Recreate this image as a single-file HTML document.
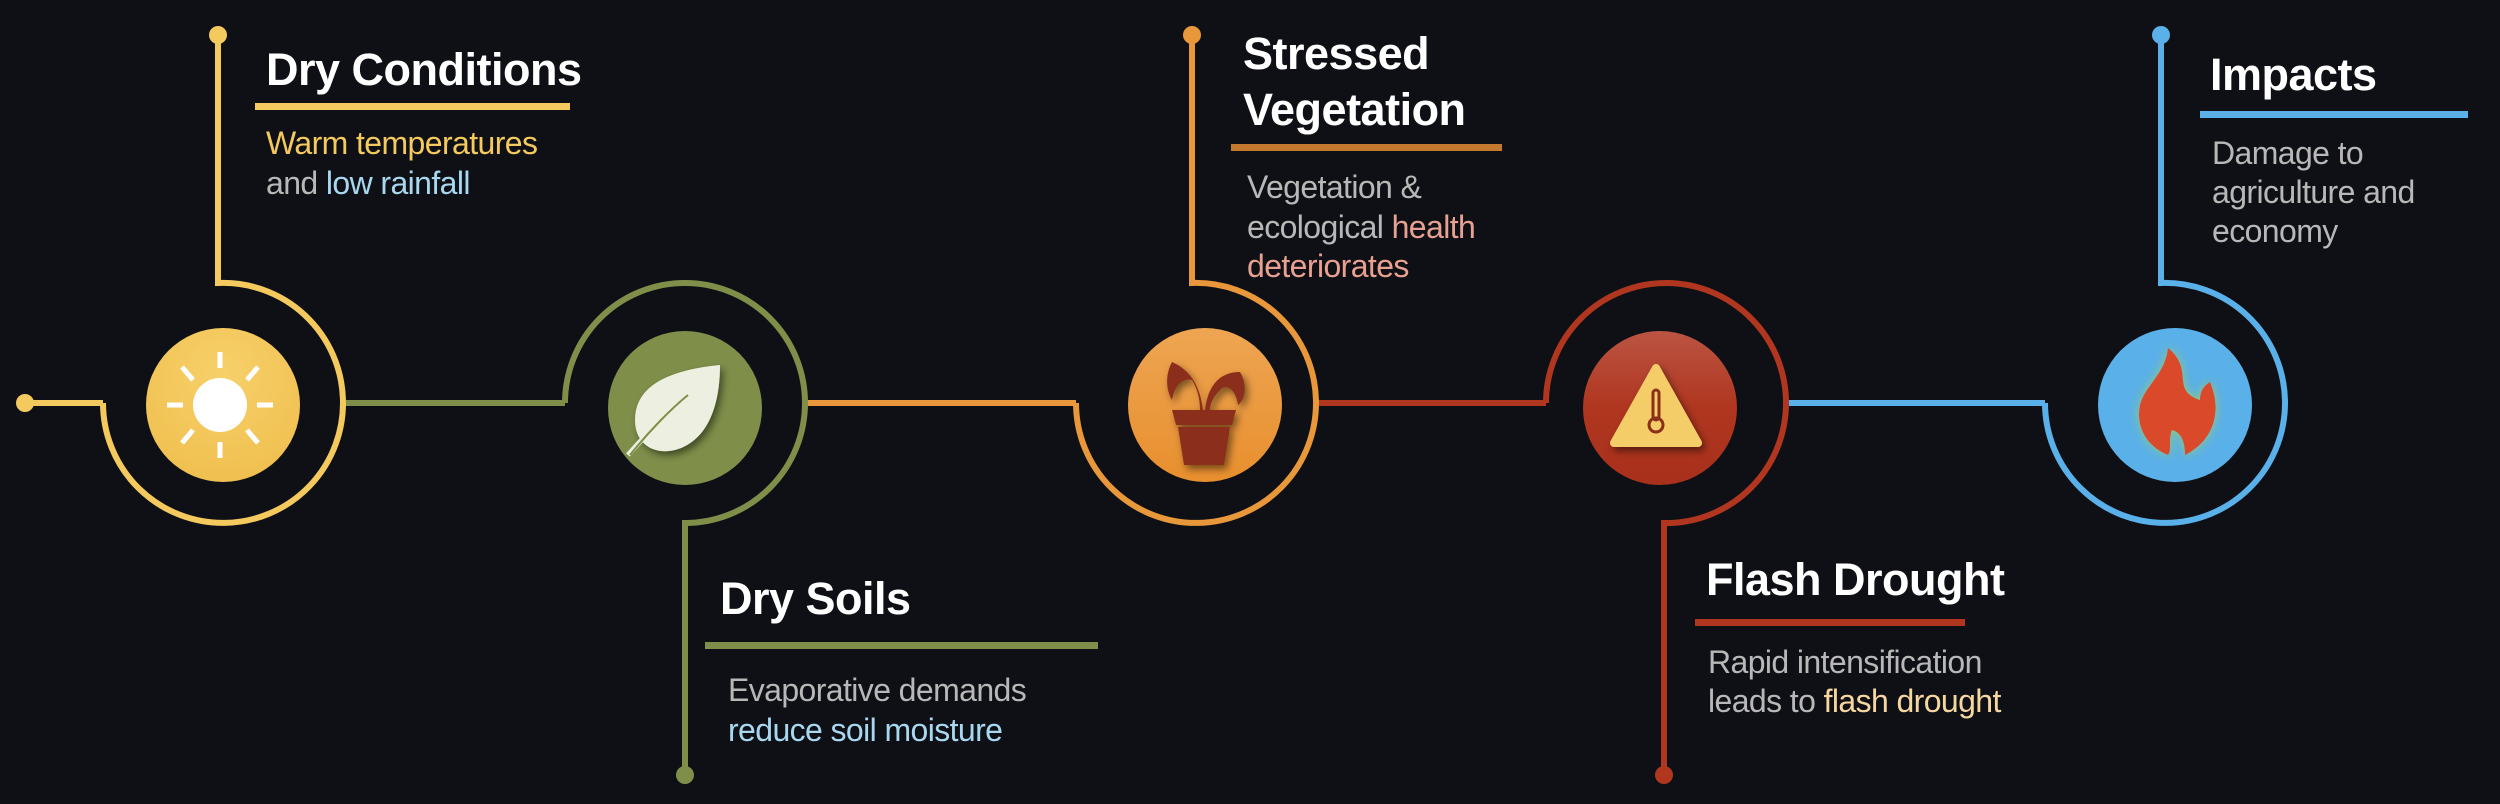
<!DOCTYPE html>
<html><head><meta charset="utf-8"><style>
html,body{margin:0;padding:0;background:#0f1015;}
svg{display:block;}
text{font-family:"Liberation Sans",Arial,sans-serif;}
.t{font-weight:bold;fill:#fff;font-size:45px;letter-spacing:-0.5px;}
.b{fill:#b8b8b8;font-size:32px;letter-spacing:-0.6px;}
</style></head><body>
<svg width="2500" height="804" viewBox="0 0 2500 804">
<rect width="2500" height="804" fill="#0f1015"/>
<defs>
<filter id="sh" x="-30%" y="-30%" width="160%" height="160%"><feDropShadow dx="3" dy="4" stdDeviation="4" flood-color="#000" flood-opacity="0.5"/></filter>
<radialGradient id="gy" cx="50%" cy="30%" r="70%"><stop offset="0" stop-color="#f7d06a"/><stop offset="1" stop-color="#f0c050"/></radialGradient>
<linearGradient id="go" x1="0" y1="0" x2="0" y2="1"><stop offset="0" stop-color="#eea552"/><stop offset="1" stop-color="#e88f2e"/></linearGradient>
<linearGradient id="gr" x1="0" y1="0" x2="0" y2="1"><stop offset="0" stop-color="#bb5443"/><stop offset="0.5" stop-color="#b0361f"/><stop offset="1" stop-color="#a8301c"/></linearGradient>
<filter id="glow" x="-40%" y="-40%" width="180%" height="180%"><feDropShadow dx="0" dy="0" stdDeviation="5" flood-color="#9acb6a" flood-opacity="0.9"/></filter>
</defs>
<g fill="none" stroke-width="6">
<circle cx="25" cy="403" r="9" fill="#f4c95d" stroke="none"/>
<path d="M25 403 H103" stroke="#f4c95d"/>
<path d="M343 403 H565" stroke="#7f8f4a"/>
<path d="M805 403 H1076" stroke="#e8973a"/>
<path d="M1316 403 H1546" stroke="#b0361f"/>
<path d="M1786 403 H2045" stroke="#5ab0e8"/>
<path d="M218 35 V283 A120 120 0 1 1 103 403" stroke="#f4c95d"/>
<circle cx="218" cy="35" r="9" fill="#f4c95d" stroke="none"/>
<path d="M565 403 A120 120 0 1 1 685 523 V775" stroke="#7f8f4a"/>
<circle cx="685" cy="775" r="9" fill="#7f8f4a" stroke="none"/>
<path d="M1192 35 V283 A120 120 0 1 1 1076 403" stroke="#e8973a"/>
<circle cx="1192" cy="35" r="9" fill="#e8973a" stroke="none"/>
<path d="M1546 403 A120 120 0 1 1 1664 523 V775" stroke="#b0361f"/>
<circle cx="1664" cy="775" r="9" fill="#b0361f" stroke="none"/>
<path d="M2161 35 V283 A120 120 0 1 1 2045 403" stroke="#5ab0e8"/>
<circle cx="2161" cy="35" r="9" fill="#5ab0e8" stroke="none"/>
</g>

<g>
<circle cx="223" cy="405" r="77" fill="url(#gy)"/>
<circle cx="220" cy="405" r="27" fill="#fff"/>
<g stroke="#fff" stroke-width="5">
<line x1="220" y1="352" x2="220" y2="368"/><line x1="220" y1="442" x2="220" y2="458"/>
<line x1="167" y1="405" x2="183" y2="405"/><line x1="257" y1="405" x2="273" y2="405"/>
<line x1="182" y1="367" x2="193" y2="380"/><line x1="247" y1="430" x2="258" y2="443"/>
<line x1="258" y1="367" x2="247" y2="380"/><line x1="193" y1="430" x2="182" y2="443"/>
</g></g>
<g>
<circle cx="685" cy="408" r="77" fill="#7f8f4a"/>
<path d="M720 365 C670 370 635 385 635 420 C635 445 655 455 675 450 C705 442 720 410 720 365 Z" fill="#edf0e0" filter="url(#sh)"/>
<path d="M628 455 C650 430 675 405 690 392" stroke="#edf0e0" stroke-width="5" fill="none"/>
<path d="M630 455 C650 430 672 408 688 395" stroke="#7f8f4a" stroke-width="2" fill="none"/>
</g>
<g>
<circle cx="1205" cy="405" r="77" fill="url(#go)"/>
<g fill="#8b2f1a" filter="url(#sh)">
<path d="M1172 410 H1236 L1232 425 H1176 Z"/>
<path d="M1178 427 H1230 L1224 465 H1184 Z"/>
<path d="M1203 410 C1200 385 1190 370 1172 362 C1165 375 1166 390 1172 400 C1175 385 1182 378 1192 380 C1198 390 1200 400 1200 410 Z"/>
<path d="M1205 410 C1208 385 1220 372 1240 372 C1248 385 1245 400 1238 405 C1236 392 1230 385 1222 388 C1215 395 1210 402 1210 410 Z"/>
</g></g>
<g>
<circle cx="1660" cy="408" r="77" fill="url(#gr)"/>
<path d="M1656 368 L1698 443 H1614 Z" fill="#f4cc68" stroke="#f4cc68" stroke-width="8" stroke-linejoin="round" filter="url(#sh)"/>
<rect x="1653" y="390" width="6" height="30" rx="3" fill="none" stroke="#8b2f1a" stroke-width="3"/>
<circle cx="1656" cy="425" r="7" fill="none" stroke="#8b2f1a" stroke-width="3"/>
</g>
<g>
<circle cx="2175" cy="405" r="77" fill="#5ab0e8"/>
<path d="M2168 348 C2195 370 2170 390 2200 400 C2200 390 2205 385 2210 382 C2222 410 2215 440 2185 455 C2185 440 2180 432 2172 430 C2168 440 2172 450 2168 455 C2150 448 2135 430 2140 405 C2145 385 2165 375 2168 348 Z" fill="#d94a2a" filter="url(#glow)"/>
</g>

<g>
<text class="t" x="266" y="85">Dry Conditions</text>
<rect x="255" y="103" width="315" height="7" fill="#f4c95d"/>
<text class="b" x="266" y="154" style="fill:#f4c95d">Warm temperatures</text>
<text class="b" x="266" y="194">and <tspan fill="#a8d8f0">low rainfall</tspan></text>
</g>
<g>
<text class="t" x="1243" y="69">Stressed</text>
<text class="t" x="1243" y="125">Vegetation</text>
<rect x="1231" y="144" width="271" height="7" fill="#c47a2c"/>
<text class="b" x="1247" y="198">Vegetation &amp;</text>
<text class="b" x="1247" y="238">ecological <tspan fill="#e8a090">health</tspan></text>
<text class="b" x="1247" y="277" style="fill:#e8a090">deteriorates</text>
</g>
<g>
<text class="t" x="2210" y="90">Impacts</text>
<rect x="2200" y="111" width="268" height="7" fill="#5ab0e8"/>
<text class="b" x="2212" y="164">Damage to</text>
<text class="b" x="2212" y="203">agriculture and</text>
<text class="b" x="2212" y="242">economy</text>
</g>
<g>
<text class="t" x="720" y="614">Dry Soils</text>
<rect x="705" y="642" width="393" height="7" fill="#7f8f4a"/>
<text class="b" x="728" y="701">Evaporative demands</text>
<text class="b" x="728" y="741" style="fill:#a8d8f0">reduce soil moisture</text>
</g>
<g>
<text class="t" x="1706" y="595">Flash Drought</text>
<rect x="1695" y="619" width="270" height="7" fill="#b0361f"/>
<text class="b" x="1708" y="673">Rapid intensification</text>
<text class="b" x="1708" y="712">leads to <tspan fill="#f6d7a0">flash drought</tspan></text>
</g>
</svg>
</body></html>
